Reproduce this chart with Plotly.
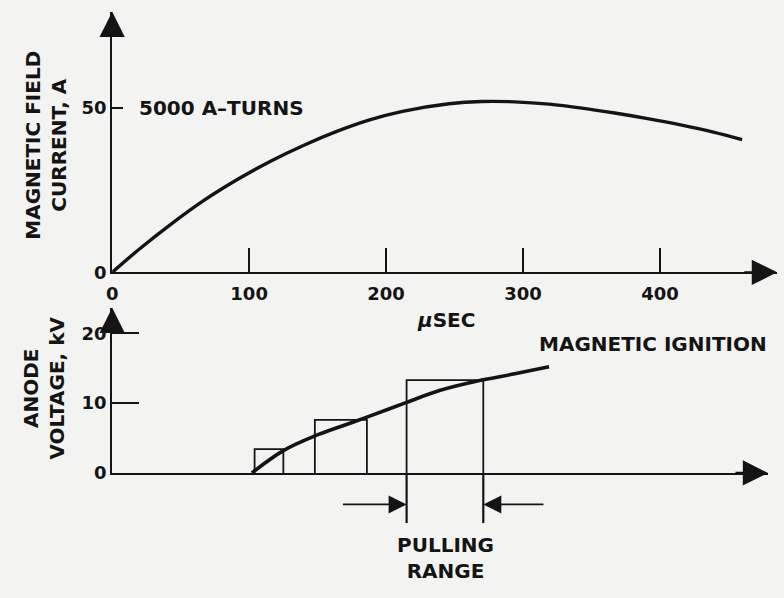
import plotly.graph_objects as go

# ---------------- data ----------------
time_us = [0, 19, 43, 67, 92, 116, 140, 164, 188, 212, 246, 270, 294, 319, 343, 367, 391, 415, 439, 460]
field_current_A = [0, 6.8, 14.7, 21.9, 28.4, 33.9, 38.7, 42.9, 46.4, 49.0, 51.3, 52.0, 51.9, 51.2,
                   50.0, 48.5, 46.8, 44.9, 42.7, 40.4]

ignition_time_us = [102, 125, 148, 169, 186, 215, 239, 270, 294, 319]
ignition_voltage_kV = [0, 3.2, 5.3, 6.8, 8.0, 10.1, 11.8, 13.3, 14.2, 15.2]

step_start_us = [104, 148, 215]
step_end_us = [125, 186, 271]
step_voltage_kV = [3.4, 7.6, 13.3]

pulling_range_us = [215, 271]

x_ticks_us = [0, 100, 200, 300, 400]
current_ticks_A = [0, 50]
voltage_ticks_kV = [0, 10, 20]

# ---------------- styling / layout ----------------
W, H = 784, 598
INK = "#141414"
BG = "#f3f3f1"
FONT = "DejaVu Sans"

T1_MAX, I_MAX = 485.5, 79.3
T2_MAX, V_MAX = 479.0, 23.66


def px(x):
    return x / W


def py(y):
    return 1 - y / H


tickfont = dict(family=FONT, size=18, color=INK, weight="bold")
textfont = dict(family=FONT, size=20, color=INK, weight="bold")

fig = go.Figure()

fig.add_trace(go.Scatter(x=time_us, y=field_current_A, mode="lines", xaxis="x", yaxis="y",
                         line=dict(color=INK, width=3.4, shape="spline", smoothing=1.0),
                         hoverinfo="skip"))

for s, e, v in zip(step_start_us, step_end_us, step_voltage_kV):
    fig.add_trace(go.Scatter(x=[s, s, e, e], y=[0, v, v, 0], mode="lines", xaxis="x2", yaxis="y2",
                             line=dict(color=INK, width=1.8), hoverinfo="skip"))

fig.add_trace(go.Scatter(x=ignition_time_us, y=ignition_voltage_kV, mode="lines", xaxis="x2", yaxis="y2",
                         line=dict(color=INK, width=3.6, shape="spline", smoothing=1.0),
                         hoverinfo="skip"))

axis_common = dict(showline=True, linecolor=INK, linewidth=2.2, showgrid=False, zeroline=False,
                   tickcolor=INK, tickwidth=2.2, tickfont=tickfont, fixedrange=True)

fig.update_layout(
    width=W, height=H,
    margin=dict(l=0, r=0, t=0, b=0),
    paper_bgcolor=BG, plot_bgcolor=BG,
    showlegend=False,
    xaxis=dict(domain=[px(107), px(777)], range=[0, T1_MAX], anchor="y",
               ticks="inside", ticklen=24, tickvals=x_ticks_us,
               ticktext=[str(v) for v in x_ticks_us], ticklabelstandoff=4, **axis_common),
    yaxis=dict(domain=[py(277), py(12)], range=[0, I_MAX], anchor="x",
               ticks="inside", ticklen=11, tickvals=current_ticks_A,
               ticktext=[str(v) for v in current_ticks_A], **axis_common),
    xaxis2=dict(domain=[px(107), px(768)], range=[0, T2_MAX], anchor="y2",
                ticks="", showticklabels=False, **axis_common),
    yaxis2=dict(domain=[py(481), py(313)], range=[0, V_MAX], anchor="x2",
                ticks="inside", ticklen=27, tickvals=voltage_ticks_kV,
                ticktext=[str(v) for v in voltage_ticks_kV], **axis_common),
)

ann = []
# axis arrowheads
for xr, yr, x, y, ax, ay in [("x", "y", T1_MAX, 0, T1_MAX - 25, 0),
                             ("x", "y", 0, I_MAX, 0, I_MAX - 8),
                             ("x2", "y2", T2_MAX, 0, T2_MAX - 25, 0),
                             ("x2", "y2", 0, V_MAX, 0, V_MAX - 3)]:
    ann.append(dict(x=x, y=y, xref=xr, yref=yr, ax=ax, ay=ay, axref=xr, ayref=yr,
                    showarrow=True, arrowhead=2, arrowsize=2.3, arrowwidth=2.2,
                    arrowcolor=INK, text="", standoff=0))

# pulling range markers
for x, tail in zip(pulling_range_us, [167.4, 316.0]):
    ann.append(dict(x=x, y=py(513), xref="x2", yref="paper", ax=tail, axref="x2", ay=0, ayref="pixel",
                    showarrow=True, arrowhead=2, arrowsize=2.0, arrowwidth=1.8,
                    arrowcolor=INK, text="", standoff=0))
    fig.add_shape(type="line", xref="x2", yref="paper", x0=x, x1=x, y0=py(481), y1=py(532),
                  line=dict(color=INK, width=2.2))

# labels
ann += [
    dict(x=px(132), y=py(110), xref="paper", yref="paper", text="5000 A\u2013TURNS",
         xanchor="left", yanchor="middle", showarrow=False, font=textfont),
    dict(x=px(39.5), y=py(148), xref="paper", yref="paper", text="MAGNETIC FIELD<br>CURRENT, A",
         textangle=-90, xanchor="center", yanchor="middle", showarrow=False, font=textfont),
    dict(x=px(38.5), y=py(395), xref="paper", yref="paper", text="ANODE<br>VOLTAGE, kV",
         textangle=-90, xanchor="center", yanchor="middle", showarrow=False, font=textfont),
    dict(x=px(443), y=py(325), xref="paper", yref="paper", text="<i>\u03bc</i>SEC",
         xanchor="center", yanchor="middle", showarrow=False, font=textfont),
    dict(x=px(535), y=py(350), xref="paper", yref="paper", text="MAGNETIC IGNITION",
         xanchor="left", yanchor="middle", showarrow=False, font=textfont),
    dict(x=px(443), y=py(567), xref="paper", yref="paper", text="PULLING<br>RANGE",
         xanchor="center", yanchor="middle", showarrow=False, font=textfont),
]
fig.update_layout(annotations=ann)

fig.write_html("out.html", config={"displayModeBar": False},
               post_script="document.body.style.margin='0';document.body.style.padding='0';")
